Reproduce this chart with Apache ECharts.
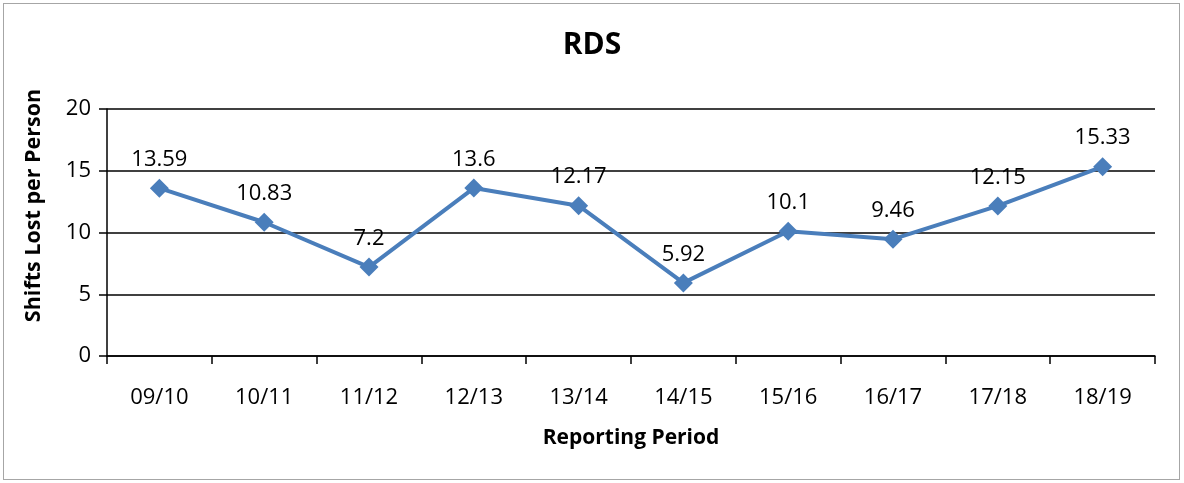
<!DOCTYPE html>
<html>
<head>
<meta charset="utf-8">
<script src="https://cdn.jsdelivr.net/npm/echarts@6/dist/echarts.min.js"></script>
<style>
  html, body { margin: 0; padding: 0; background: #fff; }
  #box { position: absolute; left: 3px; top: 3px; width: 1175px; height: 475px; border: 1.5px solid #a6a6a6; }
  #chart { position: absolute; left: 0; top: 0; width: 1184px; height: 483px; }
</style>
</head>
<body>
<div id="box"></div>
<div id="chart"></div>
<script>
const periods = ["09/10", "10/11", "11/12", "12/13", "13/14", "14/15", "15/16", "16/17", "17/18", "18/19"];
const shiftsLost = [13.59, 10.83, 7.2, 13.6, 12.17, 5.92, 10.1, 9.46, 12.15, 15.33];

const font = "Open Sans, Liberation Sans, sans-serif";
const myChart = echarts.init(document.getElementById("chart"));
const option = {
  animation: false,
  title: {
    text: "RDS",
    left: "center",
    top: 25,
    textStyle: { fontFamily: font, fontSize: 30, fontWeight: "bold", color: "#000" }
  },
  grid: { left: 107, right: 29, top: 109, bottom: 127 },
  xAxis: {
    type: "category",
    data: periods,
    boundaryGap: true,
    name: "Reporting Period",
    nameLocation: "middle",
    nameGap: 72,
    nameTextStyle: { fontFamily: font, fontSize: 21, fontWeight: "bold", color: "#000" },
    axisLine: { lineStyle: { color: "#000", width: 1.5 } },
    axisTick: { show: true, length: 8, inside: false, alignWithLabel: false, lineStyle: { color: "#000", width: 1.5 } },
    axisLabel: { fontFamily: font, fontSize: 22, color: "#000", margin: 31 }
  },
  yAxis: {
    type: "value",
    min: 0,
    max: 20,
    interval: 5,
    name: "Shifts Lost per Person",
    nameLocation: "middle",
    nameGap: 62,
    nameTextStyle: { fontFamily: font, fontSize: 21.5, fontWeight: "bold", color: "#000", padding: [0, 0, 0, 54] },
    axisLine: { show: true, lineStyle: { color: "#000", width: 1.5 } },
    axisTick: { show: true, length: 8, lineStyle: { color: "#000", width: 1.5 } },
    axisLabel: { fontFamily: font, fontSize: 22, color: "#000", margin: 16 },
    splitLine: { lineStyle: { color: "#000", width: 1.5 } }
  },
  series: [
    {
      type: "line",
      data: shiftsLost,
      symbol: "diamond",
      symbolSize: 19,
      lineStyle: { color: "#4a7ebb", width: 4 },
      itemStyle: { color: "#4a7ebb" },
      label: {
        show: true,
        position: "top",
        distance: 8,
        fontFamily: font,
        fontSize: 22,
        color: "#000"
      }
    }
  ]
};
myChart.setOption(option);
</script>
</body>
</html>
